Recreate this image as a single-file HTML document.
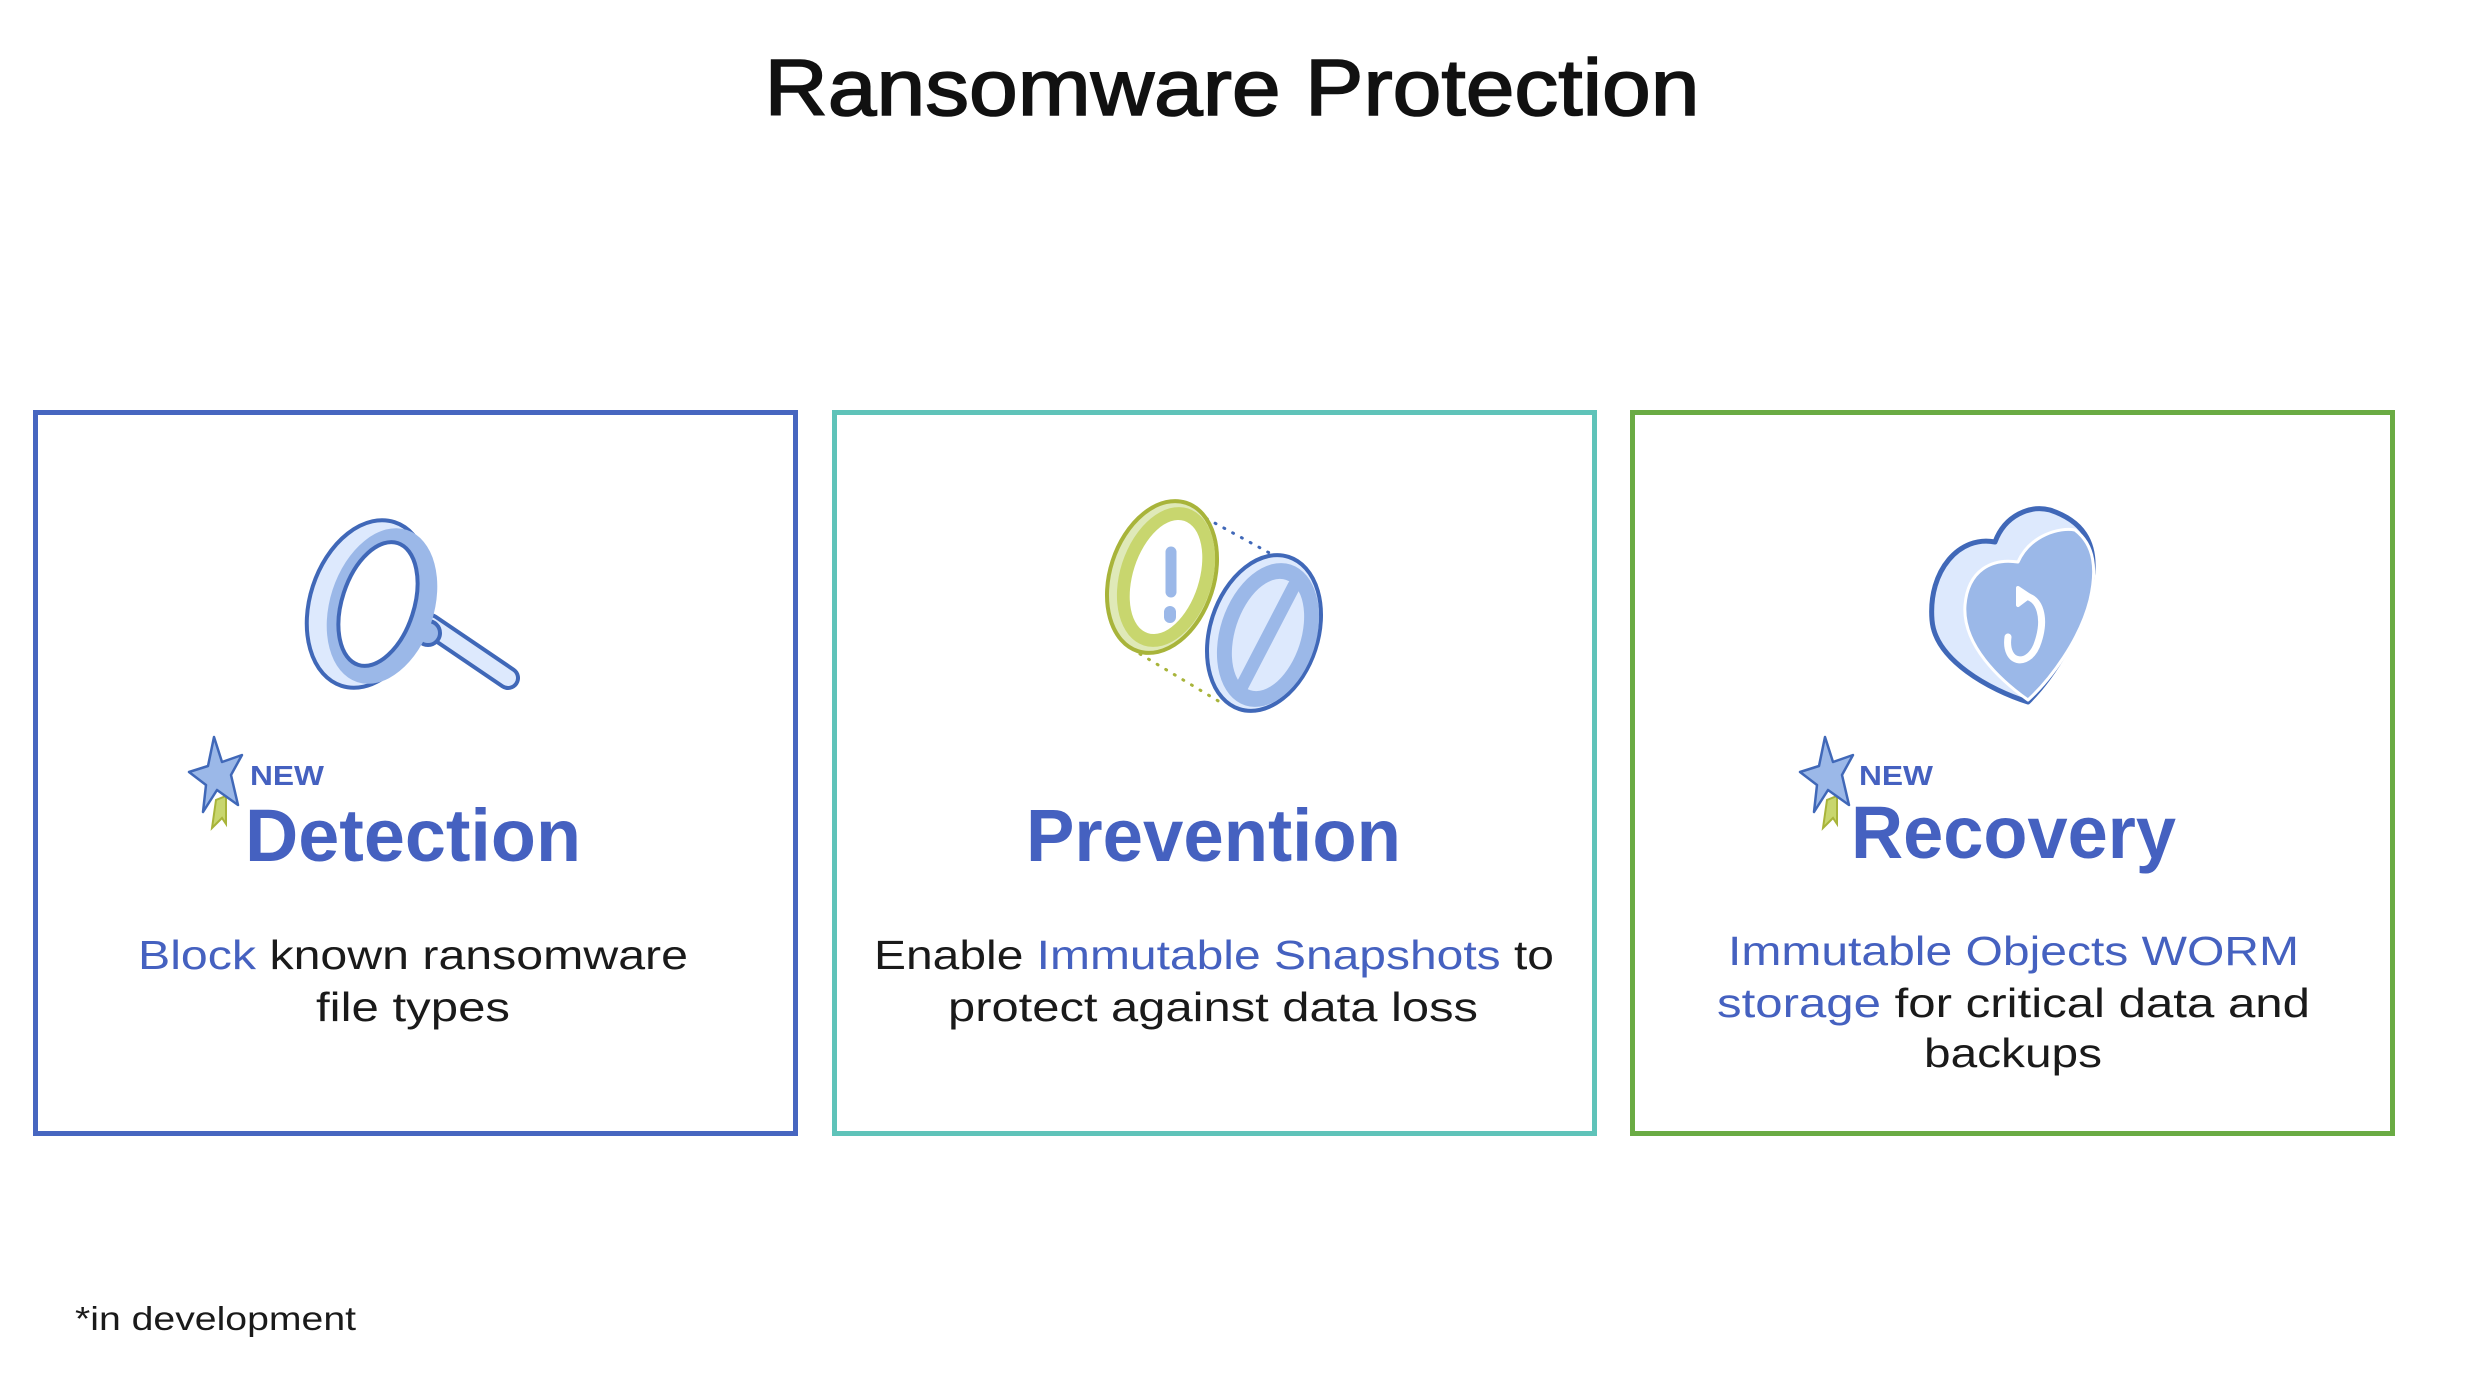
<!DOCTYPE html>
<html><head><meta charset="utf-8"><style>
html,body{margin:0;padding:0;background:#fff;}
svg{display:block;}
text{font-family:"Liberation Sans",sans-serif;}
</style></head><body>
<svg width="2468" height="1388" viewBox="0 0 2468 1388" xmlns="http://www.w3.org/2000/svg">
<rect width="2468" height="1388" fill="#fff"/>
<text x="1232" y="115" text-anchor="middle" font-size="80" fill="#111" stroke="#111" stroke-width="1.6" textLength="935" lengthAdjust="spacingAndGlyphs">Ransomware Protection</text>

<rect x="35.5" y="412.5" width="760" height="721" fill="none" stroke="#4766c0" stroke-width="5"/>
<rect x="834.5" y="412.5" width="760" height="721" fill="none" stroke="#5fc3b9" stroke-width="5"/>
<rect x="1632.5" y="412.5" width="760" height="721" fill="none" stroke="#6aab44" stroke-width="5"/>

<!-- magnifier -->
<g stroke="#4068b8" stroke-width="4" stroke-linejoin="round">
  <line x1="430" y1="625" x2="508" y2="678" stroke="#4068b8" stroke-width="24" stroke-linecap="round"/>
  <line x1="430" y1="625" x2="508" y2="678" stroke="#dde9fd" stroke-width="16" stroke-linecap="round"/>
  <circle cx="428" cy="633" r="12" fill="#9bb8e8"/>
  <ellipse cx="368" cy="604" rx="58" ry="86" transform="rotate(18 368 604)" fill="#dde9fd"/>
  <ellipse cx="382" cy="606" rx="52" ry="80" transform="rotate(18 382 606)" fill="#9bb8e8" stroke="none"/>
  <ellipse cx="378" cy="604" rx="36" ry="64" transform="rotate(18 378 604)" fill="#fff"/>
</g>

<!-- prevention -->
<g stroke-linecap="round">
  <line x1="1180" y1="504" x2="1275" y2="556" stroke="#4068b8" stroke-width="3" stroke-dasharray="1 9"/>
  <line x1="1140" y1="654" x2="1220" y2="702" stroke="#a8b43a" stroke-width="3" stroke-dasharray="1 9"/>
  <ellipse cx="1162" cy="577" rx="52" ry="78" transform="rotate(18 1162 577)" fill="#dfe9b8" stroke="#a8b43a" stroke-width="4"/>
  <ellipse cx="1166" cy="577" rx="46" ry="72" transform="rotate(18 1166 577)" fill="#c8d66e"/>
  <ellipse cx="1166" cy="577" rx="33" ry="59" transform="rotate(18 1166 577)" fill="#fff"/>
  <line x1="1171" y1="552" x2="1171" y2="592" stroke="#9bb8e8" stroke-width="11"/>
  <line x1="1170" y1="612" x2="1170" y2="617" stroke="#9bb8e8" stroke-width="12"/>
  <ellipse cx="1264" cy="633" rx="54" ry="80" transform="rotate(18 1264 633)" fill="#dde9fd" stroke="#4068b8" stroke-width="4"/>
  <ellipse cx="1268" cy="635" rx="48" ry="74" transform="rotate(18 1268 635)" fill="#9bb8e8"/>
  <ellipse cx="1268" cy="635" rx="33" ry="58" transform="rotate(18 1268 635)" fill="#dde9fd"/>
  <line x1="1294" y1="586" x2="1240" y2="690" stroke="#9bb8e8" stroke-width="13"/>
</g>

<!-- heart -->
<g stroke-linejoin="round">
  <path d="M2028,702 C1990,690 1935,660 1932,620 C1928,570 1960,535 1995,542 C2005,515 2030,505 2050,510 C2080,520 2098,540 2092,580 C2085,630 2050,680 2028,702 Z" fill="#dde9fd" stroke="#4068b8" stroke-width="5"/>
  <path d="M2028,700 C2000,680 1962,645 1965,605 C1968,570 1992,558 2018,562 C2030,535 2060,527 2075,530 C2095,545 2097,570 2090,600 C2080,640 2050,680 2028,700 Z" fill="#9bb8e8" stroke="#fff" stroke-width="3"/>
  <path d="M2008,637 C2004,665 2030,668 2038,642 C2046,618 2040,598 2025,596" fill="none" stroke="#fff" stroke-width="7" stroke-linecap="round"/>
  <path d="M2018,588 L2030,596 L2018,605 Z" fill="#fff" stroke="#fff" stroke-width="4"/>
</g>

<!-- stars -->
<g id="star1">
  <path d="M216,800 L212,828 L222,818 L226,824 L226,796 Z" fill="#c8d66e" stroke="#a8b43a" stroke-width="2"/>
  <path d="M214,737 L222,762 L242,755 L231,775 L238,805 L217,790 L203,812 L206,785 L189,772 L208,766 Z" fill="#9bb8e8" stroke="#4068b8" stroke-width="2.5" stroke-linejoin="round"/>
</g>
<use href="#star1" transform="translate(1611,0)"/>

<text x="250" y="785" font-size="28" font-weight="bold" fill="#4561c0" textLength="74" lengthAdjust="spacingAndGlyphs">NEW</text>
<text x="245" y="861" font-size="74" font-weight="bold" fill="#4561c0" textLength="336" lengthAdjust="spacingAndGlyphs">Detection</text>
<text x="1026" y="861" font-size="74" font-weight="bold" fill="#4561c0" textLength="375" lengthAdjust="spacingAndGlyphs">Prevention</text>
<text x="1859" y="785" font-size="28" font-weight="bold" fill="#4561c0" textLength="74" lengthAdjust="spacingAndGlyphs">NEW</text>
<text x="1851" y="858" font-size="74" font-weight="bold" fill="#4561c0" textLength="325" lengthAdjust="spacingAndGlyphs">Recovery</text>

<g font-size="41" fill="#1a1a1a">
<text x="138" y="969" textLength="550" lengthAdjust="spacingAndGlyphs"><tspan fill="#4561c0">Block</tspan> known ransomware</text>
<text x="316" y="1021" textLength="194" lengthAdjust="spacingAndGlyphs">file types</text>
<text x="874" y="969" textLength="680" lengthAdjust="spacingAndGlyphs">Enable <tspan fill="#4561c0">Immutable Snapshots</tspan> to</text>
<text x="948" y="1021" textLength="530" lengthAdjust="spacingAndGlyphs">protect against data loss</text>
<text x="1728" y="965" fill="#4561c0" textLength="571" lengthAdjust="spacingAndGlyphs">Immutable Objects WORM</text>
<text x="1717" y="1017" textLength="593" lengthAdjust="spacingAndGlyphs"><tspan fill="#4561c0">storage</tspan> for critical data and</text>
<text x="1924" y="1067" textLength="178" lengthAdjust="spacingAndGlyphs">backups</text>
</g>
<text x="75" y="1330" font-size="33" fill="#1a1a1a" textLength="281" lengthAdjust="spacingAndGlyphs">*in development</text>
</svg>
</body></html>
